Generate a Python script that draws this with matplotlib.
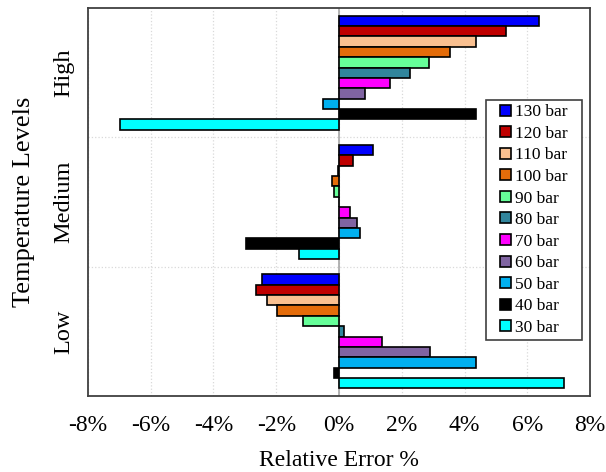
import matplotlib
matplotlib.use("Agg")
import matplotlib.pyplot as plt
from matplotlib.patches import Rectangle
import numpy as np

categories = ["Low", "Medium", "High"]
series_labels = ["130 bar", "120 bar", "110 bar", "100 bar", "90 bar", "80 bar",
                 "70 bar", "60 bar", "50 bar", "40 bar", "30 bar"]
colors = ["#0000FF", "#C00000", "#FAC090", "#E46C0A", "#66FF99", "#31859C",
          "#FF00FF", "#8064A2", "#00B0F0", "#000000", "#00FFFF"]
# values per series, ordered [Low, Medium, High]
v130 = [-2.45, 1.09, 6.36]
v120 = [-2.64, 0.43, 5.33]
v110 = [-2.29, -0.03, 4.37]
v100 = [-1.97, -0.21, 3.54]
v90 = [-1.15, -0.16, 2.87]
v80 = [0.15, 0.0, 2.26]
v70 = [1.38, 0.35, 1.62]
v60 = [2.89, 0.58, 0.84]
v50 = [4.36, 0.66, -0.50]
v40 = [-0.15, -2.97, 4.37]
v30 = [7.18, -1.28, -6.98]
series_values = [v130, v120, v110, v100, v90, v80, v70, v60, v50, v40, v30]
xticks = [-8, -6, -4, -2, 0, 2, 4, 6, 8]
xtick_labels = ["-8%", "-6%", "-4%", "-2%", "0%", "2%", "4%", "6%", "8%"]

plt.rcParams['font.family'] = ['Liberation Serif', 'DejaVu Serif']

fig = plt.figure(figsize=(6.06, 4.72), dpi=100)
ax = fig.add_axes([0.145, 0.161, 0.829, 0.822])

h = 0.08
base = np.arange(len(categories))
for i, (lab, vals, c) in enumerate(zip(series_labels, series_values, colors)):
    off = 0.4 - i * h
    ax.barh(base + off, vals, height=h, color=c, edgecolor="black",
            linewidth=1.2, label=lab, zorder=3)

ax.set_xlim(-8, 8)
ax.set_ylim(-0.5, 2.5)
ax.set_xticks(xticks)
ax.set_xticklabels(xtick_labels, fontsize=17)
ax.set_yticks(base)
ax.set_yticklabels(categories, fontsize=17.5, rotation=90, va="center")
ax.tick_params(axis="both", length=0)
ax.tick_params(axis="x", pad=14)
ax.tick_params(axis="y", pad=10)

ax.set_yticks([0.5, 1.5], minor=True)
ax.tick_params(axis="y", which="minor", length=0)
ax.grid(axis="x", which="major", color="#d9d9d9", linestyle=":", linewidth=0.9, zorder=0)
ax.grid(axis="y", which="minor", color="#d9d9d9", linestyle=":", linewidth=0.9, zorder=0)
ax.axvline(0, color="#a6a6a6", linewidth=1.2, zorder=2)

for s in ax.spines.values():
    s.set_color("#404040")
    s.set_linewidth(1.3)

ax.set_xlabel("Relative Error %", fontsize=17, labelpad=10)
ax.set_ylabel("Temperature Levels", fontsize=19, labelpad=13)

leg_kw = dict(fontsize=12.5, frameon=False, handlelength=0.6, handleheight=0.6,
              handletextpad=0.25, labelspacing=0.32, borderpad=0.25, borderaxespad=0)
leg = ax.legend(loc="upper right", bbox_to_anchor=(0.964, 0.763), **leg_kw)
for hnd in leg.legend_handles:
    hnd.set_linewidth(1.2)
leg.set_zorder(7)

# legend frame with wider horizontal padding than vertical
fig.canvas.draw()
bb = leg.get_window_extent()
pad_x = 10
inv = fig.transFigure.inverted()
(x0, y0) = inv.transform((bb.x0 - pad_x, bb.y0))
(x1, y1) = inv.transform((bb.x1 + pad_x, bb.y1))
frame = Rectangle((x0, y0), x1 - x0, y1 - y0, transform=fig.transFigure,
                  facecolor="white", edgecolor="#404040", linewidth=1.2, zorder=5)
fig.add_artist(frame)
leg.remove()
leg2 = fig.legend(*ax.get_legend_handles_labels(), loc="upper right",
                  bbox_to_anchor=(x1 - (pad_x / fig.bbox.width), y1),
                  bbox_transform=fig.transFigure, **leg_kw)
for hnd in leg2.legend_handles:
    hnd.set_linewidth(1.2)
leg2.set_zorder(7)

fig.savefig("out.png", dpi=100)
